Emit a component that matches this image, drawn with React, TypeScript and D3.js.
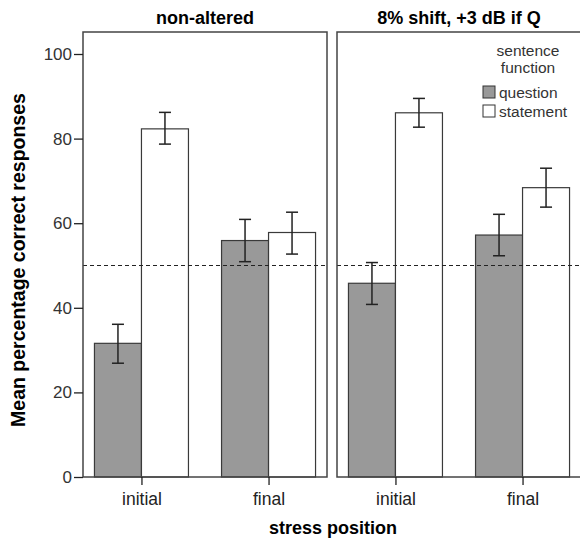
import { useEffect, useRef } from "react";
import * as d3 from "d3";

const panels = ["non-altered", "8% shift, +3 dB if Q"];
const positions = ["initial", "final"];
const functions = ["question", "statement"];

// mean, lower and upper error bounds, per panel, [position][function]
const means = [
  [[31.6, 82.3], [55.9, 57.8]],
  [[45.8, 86.1], [57.2, 68.4]],
];
const lows = [
  [[26.9, 78.7], [50.9, 52.7]],
  [[40.8, 82.7], [52.3, 63.8]],
];
const highs = [
  [[36.1, 86.2], [60.9, 62.6]],
  [[50.7, 89.5], [62.1, 73.0]],
];
const yTicks = [0, 20, 40, 60, 80, 100];
const chanceLevel = 50;

const App = () => {
  const ref = useRef<HTMLDivElement>(null);

  useEffect(() => {
    const width = 580;
    const height = 540;
    const top = 32;
    const bottom = 477;
    const panelLeft = [83, 337];
    const panelWidth = 244;
    const font = "'Liberation Sans', Arial, sans-serif";
    const colors = { question: "#999999", statement: "#ffffff" };

    const y = d3.scaleLinear([0, 100], [bottom, bottom - 423]);

    const x = d3.scalePoint(positions, [0, panelWidth]).padding(0.46);
    const xSub = d3.scaleBand(functions, [-47, 47]);

    const svg = d3
      .create("svg")
      .attr("width", width)
      .attr("height", height)
      .attr("viewBox", [0, 0, width, height])
      .style("position", "absolute")
      .style("left", "0px")
      .style("top", "0px")
      .style("font-family", font);

    svg.append("rect").attr("width", width).attr("height", height).attr("fill", "#fff");

    panels.forEach((title, p) => {
      const g = svg.append("g").attr("transform", `translate(${panelLeft[p]},0)`);

      // title
      g.append("text")
        .attr("x", panelWidth / 2)
        .attr("y", 24)
        .attr("text-anchor", "middle")
        .attr("font-size", 18)
        .attr("font-weight", "bold")
        .text(title);

      // bars
      positions.forEach((pos, i) => {
        functions.forEach((fn, j) => {
          const x0 = x(pos)! + xSub(fn)!;
          g.append("rect")
            .attr("x", x0)
            .attr("y", y(means[p][i][j]))
            .attr("width", xSub.bandwidth())
            .attr("height", y(0) - y(means[p][i][j]))
            .attr("fill", colors[fn as keyof typeof colors])
            .attr("stroke", "#3a3a3a")
            .attr("stroke-width", 1.2);
        });
      });

      // error bars
      positions.forEach((pos, i) => {
        functions.forEach((fn, j) => {
          const cx = x(pos)! + xSub(fn)! + xSub.bandwidth() / 2;
          const eg = g.append("g").attr("stroke", "#222").attr("stroke-width", 1.5);
          eg.append("line")
            .attr("x1", cx).attr("x2", cx)
            .attr("y1", y(lows[p][i][j])).attr("y2", y(highs[p][i][j]));
          [lows[p][i][j], highs[p][i][j]].forEach((v) => {
            eg.append("line")
              .attr("x1", cx - 6).attr("x2", cx + 6)
              .attr("y1", y(v)).attr("y2", y(v));
          });
        });
      });

      // reference line
      g.append("line")
        .attr("x1", 0)
        .attr("x2", panelWidth)
        .attr("y1", y(chanceLevel))
        .attr("y2", y(chanceLevel))
        .attr("stroke", "#222")
        .attr("stroke-width", 1)
        .attr("stroke-dasharray", "4,3");

      // frame
      g.append("rect")
        .attr("x", 0)
        .attr("y", top)
        .attr("width", panelWidth)
        .attr("height", bottom - top)
        .attr("fill", "none")
        .attr("stroke", "#444")
        .attr("stroke-width", 1.5);

      // bottom axis
      g.append("g")
        .attr("transform", `translate(0,${bottom})`)
        .call(d3.axisBottom(x).tickSize(8).tickPadding(8))
        .call((a) => a.select(".domain").remove())
        .call((a) => a.selectAll(".tick line").attr("stroke", "#222").attr("stroke-width", 1.3))
        .call((a) =>
          a.selectAll(".tick text")
            .attr("font-family", font)
            .attr("font-size", 17.5)
            .attr("fill", "#222")
        );
    });

    // left axis
    svg.append("g")
      .attr("transform", `translate(${panelLeft[0]},0)`)
      .call(d3.axisLeft(y).tickValues(yTicks).tickSize(9).tickPadding(2))
      .call((a) => a.select(".domain").remove())
      .call((a) => a.selectAll(".tick line").attr("stroke", "#222").attr("stroke-width", 1.3))
      .call((a) =>
        a.selectAll(".tick text")
          .attr("font-family", font)
          .attr("font-size", 17)
          .attr("fill", "#333")
      );

    // axis titles
    svg.append("text")
      .attr("transform", `translate(25,260) rotate(-90)`)
      .attr("text-anchor", "middle")
      .attr("font-size", 19.5)
      .attr("font-weight", "bold")
      .text("Mean percentage correct responses");

    svg.append("text")
      .attr("x", 333)
      .attr("y", 534)
      .attr("text-anchor", "middle")
      .attr("font-size", 18)
      .attr("font-weight", "bold")
      .text("stress position");

    // legend
    const lg = svg.append("g").attr("font-size", 15.5).attr("fill", "#333");
    lg.append("text").attr("x", 528).attr("y", 56).attr("text-anchor", "middle").text("sentence");
    lg.append("text").attr("x", 528).attr("y", 73).attr("text-anchor", "middle").text("function");
    functions.forEach((fn, j) => {
      const yy = 86 + j * 19;
      lg.append("rect")
        .attr("x", 483)
        .attr("y", yy)
        .attr("width", 12)
        .attr("height", 12)
        .attr("fill", colors[fn as keyof typeof colors])
        .attr("stroke", "#333");
      lg.append("text").attr("x", 499).attr("y", yy + 12).text(fn);
    });

    ref.current!.innerHTML = "";
    ref.current!.appendChild(svg.node()!);
  }, []);

  return <div ref={ref}></div>;
};

export default App;
